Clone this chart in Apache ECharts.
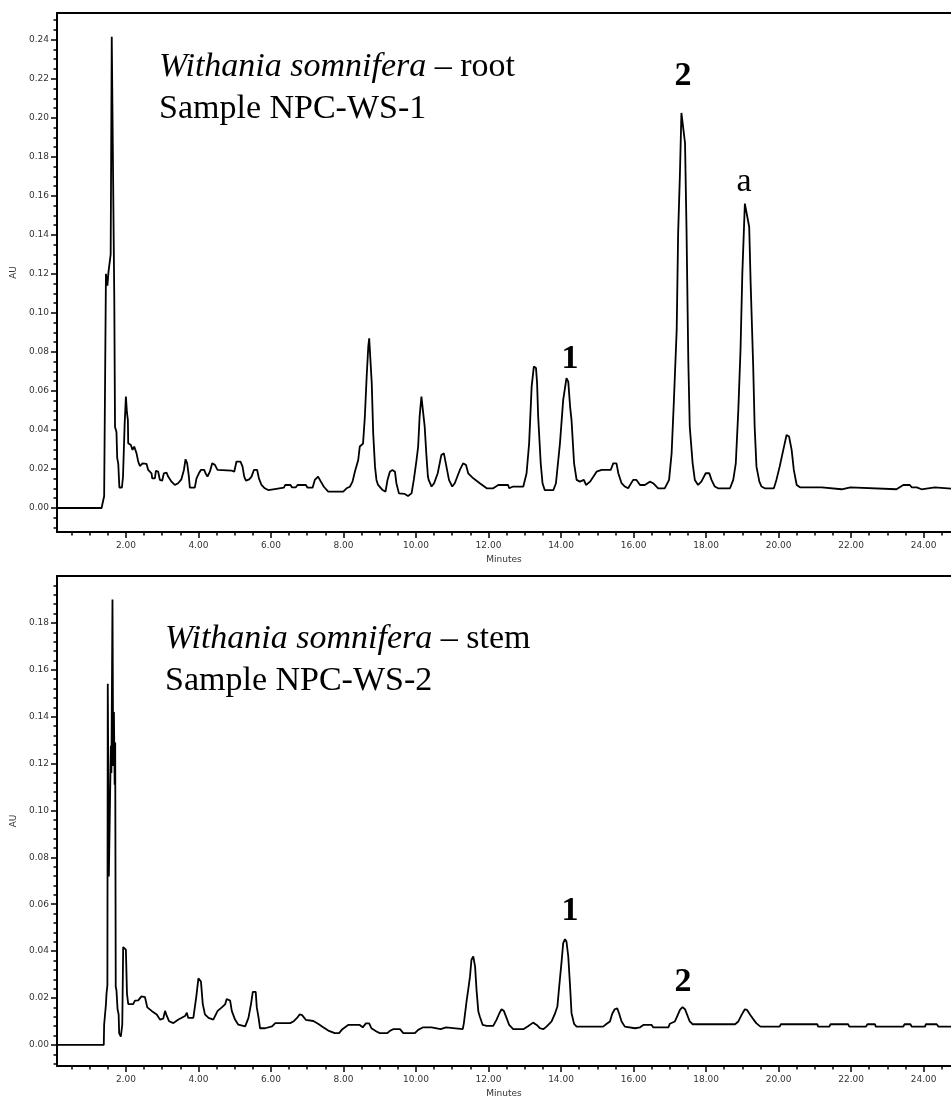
<!DOCTYPE html>
<html>
<head>
<meta charset="utf-8">
<title>Withania somnifera chromatograms</title>
<script src="https://cdn.jsdelivr.net/npm/echarts@6/dist/echarts.min.js"></script>
<style>
html, body { margin: 0; padding: 0; background: #fff; }
#chart { width: 951px; height: 1100px; }
</style>
</head>
<body>
<div id="chart"></div>
<script>
// root sample NPC-WS-1 (minutes / AU)
var rootTime = [0.1, 1.33, 1.375, 1.40, 1.45, 1.49, 1.52, 1.58, 1.61, 1.65, 1.68, 1.70, 1.74, 1.76, 1.79, 1.82, 1.89, 1.92, 1.945, 1.965,
  2.0, 2.03, 2.055, 2.064, 2.137, 2.183, 2.229, 2.294, 2.34, 2.386, 2.459, 2.57, 2.615, 2.707, 2.726, 2.80, 2.827, 2.891, 2.937,
  3.0, 3.047, 3.12, 3.166, 3.258, 3.35, 3.44, 3.53, 3.60, 3.645, 3.69, 3.737, 3.764, 3.90, 3.948,
  4.013, 4.068, 4.16, 4.196, 4.25, 4.316, 4.38, 4.454, 4.527, 4.913, 4.987,
  5.05, 5.16, 5.217, 5.263, 5.31, 5.40, 5.465, 5.53, 5.62, 5.668, 5.74, 5.83, 5.924,
  6.063, 6.108, 6.357, 6.394, 6.54, 6.577, 6.688, 6.734, 6.964,
  7.01, 7.148, 7.21, 7.30, 7.377, 7.46, 7.58, 7.994,
  8.086, 8.177, 8.25, 8.315, 8.407, 8.45, 8.54, 8.59, 8.64, 8.685, 8.71, 8.75, 8.78, 8.82, 8.87, 8.91, 8.95,
  9.08, 9.16, 9.215, 9.28, 9.35, 9.42, 9.46, 9.53, 9.69, 9.78, 9.878, 9.94,
  10.015, 10.06, 10.1, 10.15, 10.2, 10.24, 10.29, 10.33, 10.35, 10.43, 10.5, 10.6, 10.7, 10.77, 10.84, 10.91,
  11.0, 11.07, 11.21, 11.3, 11.38, 11.44, 11.58, 11.76, 11.95,
  12.13, 12.27, 12.54, 12.57, 12.68, 12.96,
  13.05, 13.12, 13.19, 13.25, 13.31, 13.34, 13.37, 13.44, 13.49, 13.55, 13.79, 13.86, 13.97,
  14.06, 14.15, 14.2, 14.25, 14.29, 14.36, 14.43, 14.52, 14.63, 14.69, 14.8, 14.89, 14.98,
  15.12, 15.37, 15.44, 15.53, 15.58, 15.67, 15.76, 15.85, 15.99,
  16.08, 16.18, 16.31, 16.45, 16.54, 16.68, 16.86, 16.98,
  17.05, 17.11, 17.19, 17.23, 17.28, 17.32, 17.37, 17.42, 17.46, 17.51, 17.55, 17.63, 17.69, 17.78, 17.87, 17.99,
  18.09, 18.15, 18.24, 18.33, 18.66, 18.75, 18.82, 18.89, 18.95,
  19.0, 19.07, 19.12, 19.19, 19.23, 19.3, 19.34, 19.39, 19.47, 19.53, 19.62, 19.87, 19.94,
  20.03, 20.13, 20.22, 20.29, 20.36, 20.42, 20.5, 20.59,
  21.19, 21.2, 21.74, 21.78, 21.98, 22.02, 23.25, 23.3, 23.44, 23.62, 23.67, 23.81, 23.85, 23.94, 23.99, 24.31, 24.36, 25.0];
var rootAU = [0, 0, 0.004, 0.006, 0.120, 0.114, 0.121, 0.130, 0.2415, 0.2415, 0.107, 0.0415, 0.039, 0.0257, 0.0226, 0.0105, 0.0105, 0.0159, 0.0168, 0.0425,
  0.0571, 0.0487, 0.045, 0.0332, 0.0323, 0.0298, 0.0315, 0.028, 0.0238, 0.0215, 0.0229, 0.0226, 0.0195, 0.0178, 0.0152, 0.0152, 0.019, 0.0186, 0.0144,
  0.014, 0.0178, 0.0181, 0.0161, 0.0135, 0.0118, 0.0127, 0.0147, 0.0195, 0.025, 0.0229, 0.0161, 0.0104, 0.0104, 0.0152,
  0.0178, 0.0195, 0.0195, 0.0178, 0.0161, 0.0186, 0.0229, 0.0221, 0.0195, 0.0192, 0.0186,
  0.0238, 0.0238, 0.0212, 0.0161, 0.014, 0.0147, 0.0161, 0.0195, 0.0195, 0.0152, 0.0118, 0.0101, 0.0092,
  0.0096, 0.0104, 0.0104, 0.0118, 0.0118, 0.0106, 0.0106, 0.0118, 0.0118,
  0.0104, 0.0104, 0.0144, 0.0161, 0.0135, 0.0109, 0.0084, 0.0084,
  0.0101, 0.0109, 0.0135, 0.0186, 0.0246, 0.0315, 0.033, 0.0468, 0.0674, 0.0828, 0.087, 0.086, 0.064, 0.0384, 0.0212, 0.0144, 0.012,
  0.0092, 0.0084, 0.0144, 0.0186, 0.0195, 0.0186, 0.0127, 0.0075, 0.0072, 0.0062, 0.0075, 0.0144,
  0.0246, 0.0315, 0.0468, 0.0571, 0.0565, 0.0417, 0.0263, 0.016, 0.0144, 0.011, 0.0127, 0.0178, 0.0272, 0.028, 0.0212, 0.0144,
  0.011, 0.0127, 0.0195, 0.0229, 0.022, 0.0178, 0.0152, 0.0127, 0.0101,
  0.0101, 0.0118, 0.0118, 0.0101, 0.011, 0.011,
  0.0178, 0.033, 0.0622, 0.0725, 0.0717, 0.064, 0.0469, 0.0229, 0.0127, 0.0092, 0.0092, 0.0127, 0.033,
  0.0554, 0.0665, 0.0648, 0.052, 0.045, 0.0229, 0.0144, 0.0135, 0.0144, 0.0118, 0.0135, 0.016, 0.0186,
  0.0195, 0.0195, 0.0229, 0.0229, 0.0178, 0.0127, 0.011, 0.0101, 0.0144,
  0.0144, 0.0118, 0.0118, 0.0135, 0.0127, 0.0101, 0.0101, 0.0144,
  0.028, 0.0537, 0.0913, 0.141, 0.1717, 0.2025, 0.2033, 0.187, 0.144, 0.0759, 0.0417, 0.0229, 0.0144, 0.0118, 0.0135, 0.0178,
  0.0178, 0.0144, 0.011, 0.0101, 0.0101, 0.0144, 0.0229, 0.0503, 0.081,
  0.12, 0.156, 0.157, 0.144, 0.115, 0.0725, 0.0417, 0.0212, 0.0135, 0.011, 0.0101, 0.0101, 0.0144,
  0.0212, 0.0298, 0.0374, 0.0366, 0.0298, 0.0195, 0.0118, 0.0106,
  0.0106, 0.0096, 0.0096, 0.0106, 0.0106, 0.0096, 0.0096, 0.0106, 0.0118, 0.0118, 0.0106, 0.0106, 0.0096, 0.0096, 0.0106, 0.0106, 0.0096, 0.0096];

// stem sample NPC-WS-2
var stemTime = [0.1, 1.39, 1.40, 1.45, 1.465, 1.49, 1.50, 1.53, 1.57, 1.585, 1.60, 1.63, 1.65, 1.67, 1.69, 1.705, 1.72, 1.74, 1.77, 1.80, 1.815, 1.86, 1.90, 1.925, 1.97,
  2.0, 2.03, 2.065, 2.2, 2.25, 2.34, 2.43, 2.525, 2.59, 2.71, 2.85, 2.94,
  3.03, 3.08, 3.12, 3.19, 3.31, 3.45, 3.63, 3.68, 3.72, 3.86, 3.94,
  4.0, 4.07, 4.12, 4.18, 4.28, 4.41, 4.53, 4.645, 4.74, 4.78, 4.875, 4.92,
  5.01, 5.1, 5.29, 5.38, 5.45, 5.5, 5.58, 5.61, 5.66, 5.70, 5.84, 5.89,
  6.03, 6.12, 6.53, 6.63, 6.72, 6.79, 6.86, 6.96,
  7.17, 7.3, 7.44, 7.58, 7.76, 7.88, 7.97,
  8.13, 8.45, 8.53, 8.62, 8.71, 8.77, 8.91,
  9.0, 9.21, 9.28, 9.37, 9.56, 9.65, 9.97,
  10.06, 10.2, 10.43, 10.46, 10.68, 10.73, 10.83, 10.86,
  11.29, 11.32, 11.4, 11.44, 11.49, 11.53, 11.58, 11.63, 11.67, 11.72, 11.76, 11.84, 11.95,
  12.13, 12.22, 12.3, 12.36, 12.42, 12.5, 12.57, 12.68, 12.96,
  13.1, 13.23, 13.33, 13.42, 13.51, 13.6, 13.74, 13.83, 13.9, 13.95,
  14.02, 14.06, 14.11, 14.15, 14.2, 14.25, 14.29, 14.36, 14.43,
  15.16, 15.26, 15.35, 15.41, 15.48, 15.55, 15.6, 15.67, 15.76, 15.81,
  16.04, 16.08, 16.18, 16.27, 16.5, 16.54, 16.96,
  17.0, 17.14, 17.2, 17.28, 17.35, 17.42, 17.48, 17.55, 17.63,
  18.8, 18.89, 18.98, 19.07, 19.13, 19.22, 19.3, 19.39, 19.5,
  20.03, 20.06, 21.07, 21.09, 21.4, 21.43, 21.92, 21.95, 22.41, 22.45, 22.66, 22.68,
  23.44, 23.47, 23.64, 23.67, 24.04, 24.06, 24.36, 24.41, 25.0];
var stemAU = [0, 0, 0.0086, 0.0174, 0.0218, 0.0255, 0.154, 0.0718, 0.0718, 0.1276, 0.116, 0.19, 0.119, 0.142, 0.111, 0.129, 0.0248, 0.0233, 0.0152, 0.013, 0.0049, 0.0035, 0.0086, 0.0417, 0.0412,
  0.0406, 0.0218, 0.0174, 0.0174, 0.0189, 0.019, 0.0207, 0.0204, 0.016, 0.0145, 0.013, 0.0108,
  0.0112, 0.0145, 0.0127, 0.0101, 0.0093, 0.0108, 0.0123, 0.0137, 0.0115, 0.0115, 0.0204,
  0.0284, 0.027, 0.0174, 0.013, 0.0115, 0.0108, 0.0145, 0.016, 0.0174, 0.0196, 0.0189, 0.0145,
  0.0108, 0.0086, 0.0079, 0.0115, 0.0174, 0.0226, 0.0226, 0.016, 0.0115, 0.0071, 0.0071, 0.0079,
  0.0079, 0.0093, 0.0093, 0.0101, 0.0115, 0.013, 0.0127, 0.0107,
  0.0102, 0.009, 0.0075, 0.0061, 0.005, 0.005, 0.0067,
  0.0085, 0.0085, 0.0075, 0.0092, 0.0092, 0.0071, 0.0057,
  0.005, 0.005, 0.006, 0.0067, 0.0067, 0.005, 0.005,
  0.0064, 0.0075, 0.0075, 0.0067, 0.0067, 0.0075, 0.0075, 0.0067,
  0.0067, 0.0092, 0.0192, 0.0235, 0.0292, 0.0363, 0.0377, 0.0334, 0.0235, 0.0142, 0.0121, 0.0085, 0.0081,
  0.0081, 0.0107, 0.0135, 0.0152, 0.0146, 0.0114, 0.0085, 0.0067, 0.0067,
  0.0081, 0.0095, 0.0085, 0.0071, 0.0067, 0.0078, 0.01, 0.0132, 0.0164, 0.0249,
  0.0363, 0.0434, 0.0451, 0.0441, 0.0377, 0.0249, 0.0135, 0.009, 0.0078,
  0.0078, 0.009, 0.01, 0.0132, 0.0152, 0.0156, 0.0135, 0.01, 0.0078, 0.0075,
  0.0071, 0.0064, 0.0075, 0.0085, 0.0085, 0.0075, 0.0075,
  0.009, 0.01, 0.0121, 0.0149, 0.0161, 0.0152, 0.0128, 0.01, 0.0088,
  0.0088, 0.01, 0.0128, 0.0152, 0.0149, 0.0128, 0.011, 0.0092, 0.0078,
  0.0078, 0.0088, 0.0088, 0.0078, 0.0078, 0.0088, 0.0088, 0.0078, 0.0078, 0.0088, 0.0088, 0.0078,
  0.0078, 0.0088, 0.0088, 0.0078, 0.0078, 0.0088, 0.0088, 0.0078, 0.0078];

var timeLabels = [2, 4, 6, 8, 10, 12, 14, 16, 18, 20, 22, 24];
var rootAULabels = [0, 0.02, 0.04, 0.06, 0.08, 0.10, 0.12, 0.14, 0.16, 0.18, 0.20, 0.22, 0.24];
var stemAULabels = [0, 0.02, 0.04, 0.06, 0.08, 0.10, 0.12, 0.14, 0.16, 0.18];

// tiny helper so the axis objects read plainly
var $ = { extend: function (a, b) { for (var k in b) a[k] = b[k]; return a; } };

function pairs(t, v) {
    var out = [];
    for (var i = 0; i < t.length; i++) out.push([t[i], v[i]]);
    return out;
}
// minor tick positions, majors left out
function minorTicks(from, to, step, majors) {
    var out = [];
    var n = Math.round((to - from) / step);
    for (var i = 0; i <= n; i++) {
        var v = Math.round((from + i * step) * 10000) / 10000;
        var isMajor = majors.some(function (m) { return Math.abs(m - v) < 1e-6; });
        if (!isMajor) out.push(v);
    }
    return out;
}

var tMin = 0.1, tMax = 24.755;
var tickFont = { fontFamily: 'DejaVu Sans', fontSize: 9, color: '#333' };
var serif = '"Liberation Serif", "Times New Roman", serif';
var black = { color: '#000', width: 1.5 };

function xMajor(grid) {
    return {
        type: 'value', gridIndex: grid, min: tMin, max: tMax, position: 'bottom',
        name: 'Minutes', nameLocation: 'middle', nameGap: 23,
        nameTextStyle: tickFont,
        axisLine: { show: true, onZero: false, lineStyle: { color: '#000', width: 2 } },
        axisTick: { show: true, customValues: timeLabels, length: 6, lineStyle: black },
        axisLabel: $.extend({ customValues: timeLabels, margin: 9, formatter: function (v) { return v.toFixed(2); } }, tickFont),
        splitLine: { show: false }
    };
}
function xMinor(grid) {
    return {
        type: 'value', gridIndex: grid, min: tMin, max: tMax, position: 'bottom',
        axisLine: { show: false, onZero: false },
        axisTick: { show: true, customValues: minorTicks(0.5, 24.5, 0.5, timeLabels), length: 3.5, lineStyle: black },
        axisLabel: { show: false },
        splitLine: { show: false }
    };
}
// top edge of the frame
function xTop(grid) {
    return {
        type: 'value', gridIndex: grid, min: tMin, max: tMax, position: 'top',
        axisLine: { show: true, onZero: false, lineStyle: { color: '#000', width: 2 } },
        axisTick: { show: false }, axisLabel: { show: false }, splitLine: { show: false }
    };
}
function yMajor(grid, min, max, labels) {
    return {
        type: 'value', gridIndex: grid, min: min, max: max, position: 'left',
        name: 'AU', nameLocation: 'middle', nameGap: 35,
        nameTextStyle: tickFont,
        axisLine: { show: true, onZero: false, lineStyle: { color: '#000', width: 2 } },
        axisTick: { show: true, customValues: labels, length: 6, lineStyle: black },
        axisLabel: $.extend({ customValues: labels, margin: 8, formatter: function (v) { return v.toFixed(2); } }, tickFont),
        splitLine: { show: false }
    };
}
function yMinor(grid, min, max, minors) {
    return {
        type: 'value', gridIndex: grid, min: min, max: max, position: 'left',
        axisLine: { show: false, onZero: false },
        axisTick: { show: true, customValues: minors, length: 3.5, lineStyle: black },
        axisLabel: { show: false },
        splitLine: { show: false }
    };
}
function label(x, y, text, bold, align) {
    return {
        type: 'text', x: x, y: y, silent: true,
        style: {
            text: text, fill: '#000',
            font: (bold ? 'bold ' : '') + '34px ' + serif,
            textAlign: align || 'center', align: align || 'center',
            textVerticalAlign: 'middle', verticalAlign: 'middle'
        }
    };
}
function title(x, y, part) {
    return {
        type: 'text', x: x, y: y, silent: true,
        style: {
            text: '{i|Withania somnifera} \u2013 ' + part, fill: '#000',
            font: '34px ' + serif,
            textAlign: 'left', align: 'left',
            textVerticalAlign: 'middle', verticalAlign: 'middle',
            rich: { i: { fontStyle: 'italic', fontSize: 34, fontFamily: serif, fill: '#000' } }
        }
    };
}

var option = {
    animation: false,
    backgroundColor: '#fff',
    grid: [
        { left: 57, top: 13, right: 0, height: 519 },
        { left: 57, top: 576, right: 0, height: 490 }
    ],
    xAxis: [xMajor(0), xMinor(0), xTop(0), xMajor(1), xMinor(1), xTop(1)],
    yAxis: [
        yMajor(0, -0.0123, 0.2537, rootAULabels),
        yMinor(0, -0.0123, 0.2537, minorTicks(-0.01, 0.25, 0.005, rootAULabels)),
        yMajor(1, -0.009, 0.2, stemAULabels),
        yMinor(1, -0.009, 0.2, minorTicks(-0.008, 0.196, 0.004, stemAULabels))
    ],
    series: [
        {
            name: 'root', type: 'line', xAxisIndex: 0, yAxisIndex: 0,
            data: pairs(rootTime, rootAU), showSymbol: false,
            lineStyle: { color: '#000', width: 1.8 }
        },
        {
            name: 'stem', type: 'line', xAxisIndex: 3, yAxisIndex: 2,
            data: pairs(stemTime, stemAU), showSymbol: false,
            lineStyle: { color: '#000', width: 1.8 }
        }
    ],
    graphic: [
        title(159, 67, 'root'),
        label(159, 109, 'Sample NPC-WS-1', false, 'left'),
        label(683, 76, '2', true),
        label(744, 182, 'a', false),
        label(570, 359, '1', true),
        title(165, 639, 'stem'),
        label(165, 681, 'Sample NPC-WS-2', false, 'left'),
        label(570, 911, '1', true),
        label(683, 982, '2', true)
    ]
};

var chart = echarts.init(document.getElementById('chart'));
chart.setOption(option);
window.addEventListener('resize', function () {
    chart.resize();
});
</script>
</body>
</html>
